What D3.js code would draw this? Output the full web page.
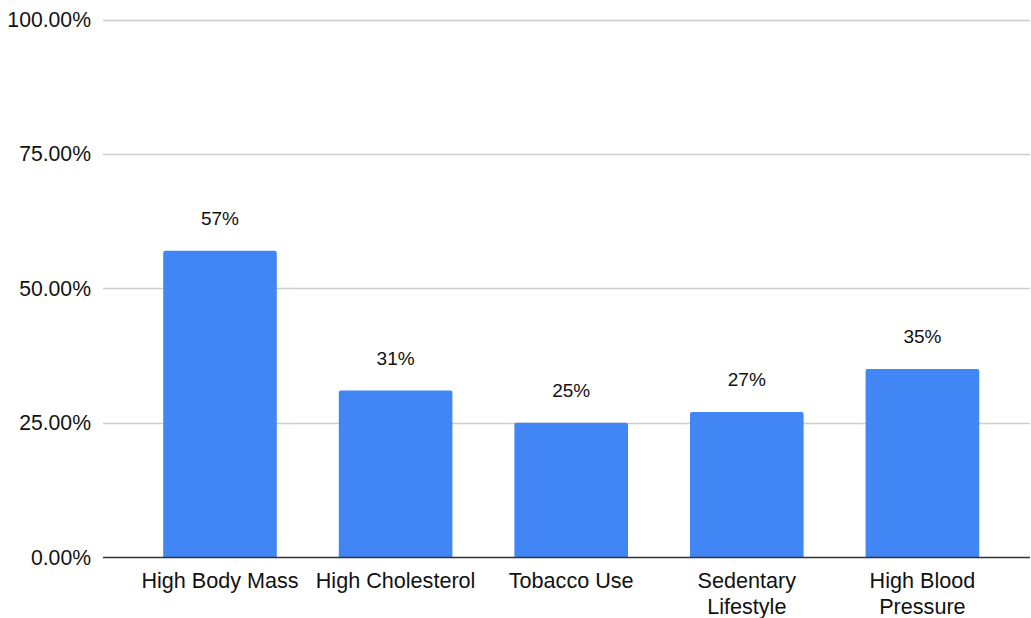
<!DOCTYPE html>
<html>
<head>
<meta charset="utf-8">
<script src="https://cdn.jsdelivr.net/npm/d3@7"></script>
<style>
  html, body { margin: 0; padding: 0; background: #fff; }
  svg { display: block; font-family: "Liberation Sans", Arial, sans-serif; }
</style>
</head>
<body>
<svg id="chart" width="1031" height="618"></svg>
<script>
// Risk factor prevalence (percent)
const categories = ["High Body Mass", "High Cholesterol", "Tobacco Use", "Sedentary Lifestyle", "High Blood Pressure"];
const values = [57, 31, 25, 27, 35];
const valueLabels = ["57%", "31%", "25%", "27%", "35%"];
const yTicks = [0, 25, 50, 75, 100];
const yTickLabels = ["0.00%", "25.00%", "50.00%", "75.00%", "100.00%"];

const svg = d3.select("#chart");
const gridLeft = 103, gridRight = 1030;
const yTop = 19.5, yBottom = 557.3;

const y = d3.scaleLinear().domain([0, 100]).range([yBottom, yTop]);
const x = d3.scaleBand()
  .domain(categories)
  .range([132.2, 1010.2])
  .paddingInner(0.353)
  .paddingOuter(0.1765);

// gridlines
svg.append("g")
  .selectAll("line")
  .data(yTicks.filter(t => t !== 0))
  .join("line")
  .attr("x1", gridLeft).attr("x2", gridRight)
  .attr("y1", d => Math.round(y(d)) + 0.5)
  .attr("y2", d => Math.round(y(d)) + 0.5)
  .attr("stroke", "#cccccc")
  .attr("stroke-width", 1.3);

// y tick labels
svg.append("g")
  .selectAll("text")
  .data(yTicks)
  .join("text")
  .attr("x", 91)
  .attr("y", d => y(d))
  .attr("dy", "0.35em")
  .attr("text-anchor", "end")
  .attr("font-size", 21.2)
  .attr("fill", "#111")
  .text((d, i) => yTickLabels[i]);

// bars with slightly rounded top corners
const r = 2;
function barPath(x0, w, yTopBar, yBase) {
  return `M${x0},${yBase} L${x0},${yTopBar + r} Q${x0},${yTopBar} ${x0 + r},${yTopBar} ` +
         `L${x0 + w - r},${yTopBar} Q${x0 + w},${yTopBar} ${x0 + w},${yTopBar + r} L${x0 + w},${yBase} Z`;
}
svg.append("g")
  .selectAll("path")
  .data(categories)
  .join("path")
  .attr("d", (c, i) => barPath(x(c), x.bandwidth(), y(values[i]), y(0)))
  .attr("fill", "#4285f4");

// value labels
svg.append("g")
  .selectAll("text")
  .data(categories)
  .join("text")
  .attr("x", c => x(c) + x.bandwidth() / 2)
  .attr("y", (c, i) => y(values[i]) - 26)
  .attr("text-anchor", "middle")
  .attr("font-size", 19)
  .attr("fill", "#111")
  .text((c, i) => valueLabels[i]);

// baseline
svg.append("line")
  .attr("x1", gridLeft).attr("x2", gridRight)
  .attr("y1", Math.round(y(0)) + 0.5).attr("y2", Math.round(y(0)) + 0.5)
  .attr("stroke", "#333")
  .attr("stroke-width", 1.3);

// category labels, wrapped where the band is too narrow
const wrap = {
  "Sedentary Lifestyle": ["Sedentary", "Lifestyle"],
  "High Blood Pressure": ["High Blood", "Pressure"]
};
const catG = svg.append("g");
categories.forEach(c => {
  const lines = wrap[c] || [c];
  const t = catG.append("text")
    .attr("x", x(c) + x.bandwidth() / 2)
    .attr("y", 587.5)
    .attr("text-anchor", "middle")
    .attr("font-size", 21.6)
    .attr("fill", "#111");
  lines.forEach((ln, k) => {
    t.append("tspan")
      .attr("x", x(c) + x.bandwidth() / 2)
      .attr("dy", k === 0 ? 0 : 26)
      .text(ln);
  });
});
</script>
</body>
</html>
